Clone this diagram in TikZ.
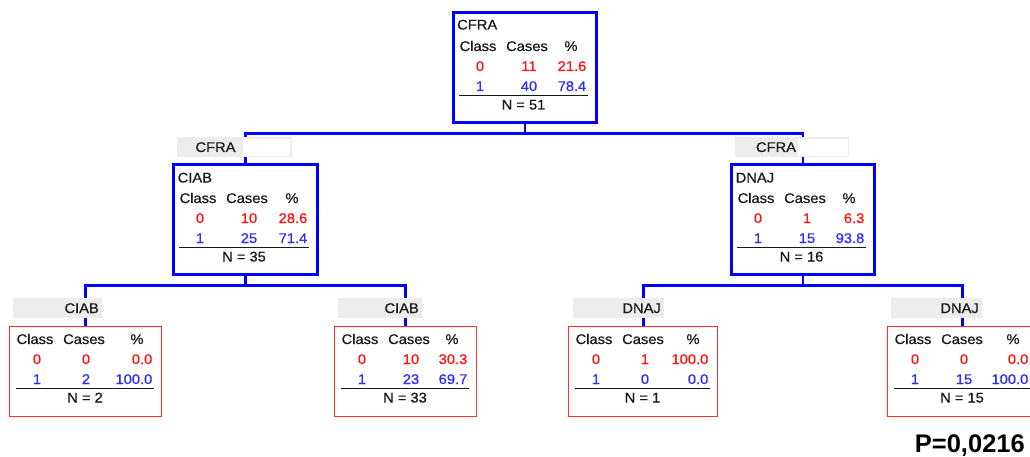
\documentclass[tikz,border=0pt]{standalone}
\usepackage{fontspec}
\setmainfont{Liberation Sans}
\newfontfamily\tabfont[FakeStretch=1.05,FakeBold=0.6]{Liberation Sans}
\definecolor{cblue}{RGB}{0,0,255}
\definecolor{bred}{RGB}{255,45,45}
\definecolor{tred}{RGB}{255,20,20}
\definecolor{tblue}{RGB}{45,45,255}
\definecolor{lgray}{RGB}{236,236,236}
\definecolor{tblack}{RGB}{25,25,25}
\tikzset{
  txt/.style={inner sep=0pt, anchor=base, text=tblack, font=\tabfont\fontsize{14}{16}\selectfont},
  txr/.style={txt, anchor=base east},
  txl/.style={txt, anchor=base west},
  bluebox/.style={draw=cblue, line width=2.6pt, fill=white, inner sep=0pt, anchor=north west},
  redbox/.style={draw=bred, line width=1.4pt, fill=white, inner sep=0pt, anchor=north west},
  conn/.style={draw=cblue, line width=2.6pt},
  lbl/.style={fill=lgray, draw=none, inner sep=0pt, anchor=north west},
  blot/.style={fill=white, draw=none, inner sep=0pt, anchor=north west},
  hrule/.style={draw=tblack, line width=1.3pt}
}
% #1 prefix, #2 x0, #3 yb, #4 w, #5 c0, #6 p0, #7 c1, #8 p1, #9 N
\newcommand{\tabcontent}[9]{%
  \begin{scope}[shift={(#2,#3)}]
    \node[txt] (#1-hc) at (26,18) {Class};
    \node[txt] (#1-hn) at (75,18) {Cases};
    \node[txt] (#1-hp) at (#4-24,18) {\%};
    \node[txt,text=tred] (#1-a0) at (28,38) {0};
    \node[txt,text=tred] (#1-b0) at (77,38) {#5};
    \node[txr,text=tred] (#1-c0) at (#4-8.5,38) {#6};
    \node[txt,text=tblue] (#1-a1) at (28,58) {1};
    \node[txt,text=tblue] (#1-b1) at (77,58) {#7};
    \node[txr,text=tblue] (#1-c1) at (#4-8.5,58) {#8};
    \draw[hrule] (7,62.5) -- (#4-7,62.5);
    \node[txt] (#1-n) at (#4/2,76.5) {N = #9};
  \end{scope}}
\begin{document}
\begin{tikzpicture}[x=1pt,y=-1pt]
\useasboundingbox (0,0) rectangle (1030,457);
\clip (0,0) rectangle (1030,457);
% boxes
\node[bluebox, minimum width=143pt, minimum height=110pt] (root) at (452,11) {};
\node[bluebox, minimum width=144pt, minimum height=110pt] (L) at (172,163) {};
\node[bluebox, minimum width=143pt, minimum height=110pt] (R) at (730,163) {};
\node[redbox, minimum width=152pt, minimum height=90pt] (LL) at (9,326) {};
\node[redbox, minimum width=142pt, minimum height=90pt] (LR) at (334,326) {};
\node[redbox, minimum width=149pt, minimum height=90pt] (RL) at (568,326) {};
\node[redbox, minimum width=150pt, minimum height=90pt] (RR) at (887,326) {};
% connectors
\path (root.south) ++(0,10) coordinate (j1);
\draw[conn] (root.south) -- (j1);
\draw[conn] (j1) -| (L.north);
\draw[conn] (j1) -| (R.north);
\path (L.south) ++(0,10) coordinate (j2);
\draw[conn] (L.south) -- (j2);
\draw[conn] (j2) -| (LL.north);
\draw[conn] (j2) -| (LR.north);
\path (R.south) ++(0,10) coordinate (j3);
\draw[conn] (R.south) -- (j3);
\draw[conn] (j3) -| (RL.north);
\draw[conn] (j3) -| (RR.north);
% split labels
\node[lbl, minimum width=115pt, minimum height=20pt] (lL) at (177,137) {};
\node[blot, minimum width=47pt, minimum height=17pt] (wL) at (243,139) {};
\node[txt] (tL) at (215.5,152) {CFRA};
\node[lbl, minimum width=114pt, minimum height=20pt] (lR) at (735,137) {};
\node[blot, minimum width=50pt, minimum height=17pt] (wR) at (798,139) {};
\node[txt] (tR) at (776,152) {CFRA};
\node[lbl, minimum width=89pt, minimum height=20pt] (lLL) at (13,298) {};
\node[txr] (tLL) at (99,313) {CIAB};
\node[lbl, minimum width=84pt, minimum height=20pt] (lLR) at (338,298) {};
\node[txr] (tLR) at (419,313) {CIAB};
\node[lbl, minimum width=91pt, minimum height=20pt] (lRL) at (573,298) {};
\node[txr] (tRL) at (661,313) {DNAJ};
\node[lbl, minimum width=91pt, minimum height=20pt] (lRR) at (891,298) {};
\node[txr] (tRR) at (979,313) {DNAJ};
% titles
\node[txl] (ttroot) at (457,29.5) {CFRA};
\node[txl] (ttL) at (177.5,182.5) {CIAB};
\node[txl] (ttR) at (735.5,182.5) {DNAJ};
% tables
\tabcontent{r}{452}{33}{143}{11}{21.6}{40}{78.4}{51}
\tabcontent{l}{172}{185}{144}{10}{28.6}{25}{71.4}{35}
\tabcontent{q}{730}{185}{143}{1}{6.3}{15}{93.8}{16}
\tabcontent{ll}{9}{326}{152}{0}{0.0}{2}{100.0}{2}
\tabcontent{lr}{334}{326}{142}{10}{30.3}{23}{69.7}{33}
\tabcontent{rl}{568}{326}{149}{1}{100.0}{0}{0.0}{1}
\tabcontent{rr}{887}{326}{150}{0}{0.0}{15}{100.0}{15}
% p value
\node[inner sep=0pt, anchor=base east, text=black, font=\bfseries\fontsize{25.5}{28}\selectfont] (pval) at (1025,452) {P=0,0216};
\end{tikzpicture}
\end{document}
